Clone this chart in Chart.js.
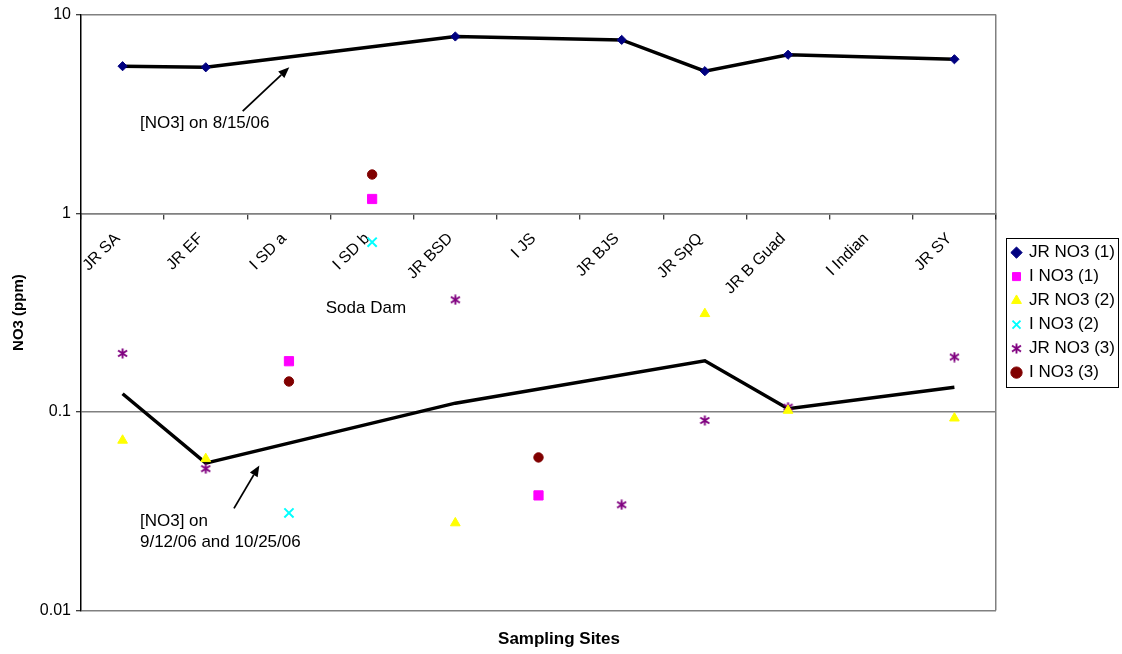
<!DOCTYPE html>
<html>
<head>
<meta charset="utf-8">
<title>NO3 at sampling sites</title>
<script src="https://cdn.jsdelivr.net/npm/chart.js@4.4.1/dist/chart.umd.min.js"></script>
<style>
  html, body { margin: 0; padding: 0; background: #ffffff; }
  canvas { display: block; }
</style>
</head>
<body>
<canvas id="chart" width="1122" height="654"></canvas>
<script>
// Sampling sites along the Jemez River (JR) and its inflows (I)
const sites = ['JR SA', 'JR EF', 'I SD a', 'I SD b', 'JR BSD', 'I JS', 'JR BJS', 'JR SpQ', 'JR B Guad', 'I Indian', 'JR SY'];

// Nitrate concentrations (ppm); null where a site was not sampled
const jrNo3_1 = [5.50, 5.43, null, null, 7.76, null, 7.46, 5.19, 6.28, null, 5.96];
const iNo3_1  = [null, null, 0.180, 1.18, null, 0.038, null, null, null, null, null];
const jrNo3_2 = [0.0719, 0.0581, null, null, 0.0276, null, null, 0.312, 0.1017, null, 0.093];
const iNo3_2  = [null, null, 0.031, 0.715, null, null, null, null, null, null, null];
const jrNo3_3 = [0.197, 0.0518, null, null, 0.367, null, 0.0341, 0.0906, 0.1057, null, 0.189];
const iNo3_3  = [null, null, 0.1423, 1.567, null, 0.059, null, null, null, null, null];

// River trend for the 9/12/06 and 10/25/06 campaigns
const jrNo3Fall = [0.1235, 0.0552, null, null, 0.1107, null, null, 0.181, 0.1038, null, 0.133];

// Log axis ticks
const yTickValues = [0.01, 0.1, 1, 10];
const yTickLabels = ['0.01', '0.1', '1', '10'];

// Callout notes, placed in data space (x = site index, y = ppm)
const noteTexts = [
  { lines: ['[NO3] on 8/15/06'], at: [0.209, 2.85] },
  { lines: ['Soda Dam'], at: [2.442, 0.332] },
  { lines: ['[NO3] on', '9/12/06 and 10/25/06'], at: [0.209, 0.0282] }
];
const noteArrows = [
  { from: [1.444, 3.27], to: [2.004, 5.43] },
  { from: [1.339, 0.0327], to: [1.644, 0.0538] }
];

const FONT = '"Liberation Sans", Arial, Helvetica, sans-serif';
Chart.defaults.font.family = FONT;
Chart.defaults.color = '#000000';

// Asterisk marker: an X crossed by a vertical stroke
function asteriskMarker(color, size, lineWidth) {
  const c = document.createElement('canvas');
  c.width = size;
  c.height = size;
  const g = c.getContext('2d');
  g.strokeStyle = color;
  g.lineWidth = lineWidth;
  const m = size / 2;
  g.beginPath();
  g.moveTo(m, 0.5);          g.lineTo(m, size - 0.5);
  g.moveTo(1, size * 0.22);  g.lineTo(size - 1, size * 0.78);
  g.moveTo(size - 1, size * 0.22); g.lineTo(1, size * 0.78);
  g.stroke();
  return c;
}

const calloutPlugin = {
  id: 'callouts',
  afterDatasetsDraw(chart) {
    const { ctx, scales: { x, y } } = chart;
    ctx.save();
    ctx.fillStyle = '#000000';
    ctx.strokeStyle = '#000000';
    ctx.font = '17px ' + FONT;
    ctx.textAlign = 'left';
    ctx.textBaseline = 'middle';
    noteTexts.forEach(n => {
      const px = x.getPixelForValue(n.at[0]);
      const py = y.getPixelForValue(n.at[1]);
      n.lines.forEach((line, i) => ctx.fillText(line, px, py + i * 21));
    });
    noteArrows.forEach(a => {
      const x0 = x.getPixelForValue(a.from[0]), y0 = y.getPixelForValue(a.from[1]);
      const x1 = x.getPixelForValue(a.to[0]),   y1 = y.getPixelForValue(a.to[1]);
      const ang = Math.atan2(y1 - y0, x1 - x0);
      const headLen = 11, headHalf = 4.5;
      const bx = x1 - headLen * Math.cos(ang), by = y1 - headLen * Math.sin(ang);
      ctx.lineWidth = 1.8;
      ctx.beginPath();
      ctx.moveTo(x0, y0);
      ctx.lineTo(bx, by);
      ctx.stroke();
      ctx.beginPath();
      ctx.moveTo(x1, y1);
      ctx.lineTo(bx + headHalf * Math.sin(ang), by - headHalf * Math.cos(ang));
      ctx.lineTo(bx - headHalf * Math.sin(ang), by + headHalf * Math.cos(ang));
      ctx.closePath();
      ctx.fill();
    });
    ctx.restore();
  }
};

const LEGEND_WIDTH = 112.5;
const legendFramePlugin = {
  id: 'legendFrame',
  afterDraw(chart) {
    const lg = chart.legend;
    if (!lg || !lg.legendHitBoxes || !lg.legendHitBoxes.length) return;
    const boxes = lg.legendHitBoxes;
    const last = boxes[boxes.length - 1];
    const top = Math.round(boxes[0].top - 6);
    const bottom = Math.round(last.top + last.height + 6);
    const left = Math.round(lg.left + 0.5);
    const right = Math.round(lg.left + LEGEND_WIDTH);
    const { ctx } = chart;
    ctx.save();
    ctx.strokeStyle = '#000000';
    ctx.lineWidth = 1;
    ctx.strokeRect(left + 0.5, top + 0.5, right - left, bottom - top);
    ctx.restore();
  }
};

const markerSeries = (label, data, style, color, radius, borderWidth) => ({
  label,
  data,
  showLine: false,
  pointStyle: style,
  pointRadius: radius,
  pointHoverRadius: radius,
  backgroundColor: color,
  borderColor: color,
  pointBackgroundColor: color,
  pointBorderColor: color,
  pointBorderWidth: borderWidth,
  borderWidth: borderWidth
});

new Chart(document.getElementById('chart'), {
  type: 'line',
  data: {
    labels: sites,
    datasets: [
      {
        label: 'JR NO3 (1)',
        data: jrNo3_1,
        showLine: true,
        spanGaps: true,
        tension: 0,
        borderColor: '#000000',
        borderWidth: 3.5,
        borderCapStyle: 'butt',
        backgroundColor: '#000080',
        pointStyle: 'rectRot',
        pointRadius: 4.6,
        pointHoverRadius: 4.6,
        pointBackgroundColor: '#000080',
        pointBorderColor: '#000080',
        pointBorderWidth: 1
      },
      markerSeries('I NO3 (1)', iNo3_1, 'rect', '#ff00ff', 6.5, 1),
      markerSeries('JR NO3 (2)', jrNo3_2, 'triangle', '#ffff00', 5.6, 1),
      markerSeries('I NO3 (2)', iNo3_2, 'crossRot', '#00ffff', 6.5, 2),
      markerSeries('JR NO3 (3)', jrNo3_3, asteriskMarker('#800080', 11, 1.9), '#800080', 5.5, 1),
      markerSeries('I NO3 (3)', iNo3_3, 'circle', '#800000', 4.7, 1),
      {
        label: 'JR NO3 9/12/06 and 10/25/06',
        inLegend: false,
        data: jrNo3Fall,
        showLine: true,
        spanGaps: true,
        tension: 0,
        borderColor: '#000000',
        borderWidth: 3.5,
        borderCapStyle: 'butt',
        pointRadius: 0,
        pointHoverRadius: 0
      }
    ]
  },
  options: {
    responsive: false,
    devicePixelRatio: 1,
    animation: false,
    layout: { padding: { top: 14, right: 4, bottom: 0, left: 0 } },
    scales: {
      x: {
        type: 'category',
        position: { y: 1 },
        offset: true,
        grid: {
          offset: true,
          drawOnChartArea: true,
          color: ctx => (ctx.type === 'scale' ? '#808080' : 'rgba(0,0,0,0)'),
          lineWidth: 1.5,
          drawTicks: true,
          tickLength: 5,
          tickColor: '#000000',
          tickWidth: 1
        },
        border: { display: true, color: '#808080', width: 1.5 },
        ticks: {
          autoSkip: false,
          minRotation: 45,
          maxRotation: 45,
          padding: 11,
          labelOffset: -5,
          color: '#000000',
          font: { size: 16 }
        }
      },
      y: {
        type: 'logarithmic',
        position: 'left',
        min: 0.01,
        max: 10,
        afterBuildTicks: scale => { scale.ticks = yTickValues.map(v => ({ value: v })); },
        afterFit: scale => { scale.width = 81; },
        ticks: {
          callback: (value, index) => yTickLabels[index],
          color: '#000000',
          font: { size: 16 },
          padding: 5
        },
        grid: { color: '#808080', lineWidth: 1.5, tickLength: 5, tickColor: '#000000', tickWidth: 1 },
        border: { display: true, color: '#000000', width: 1.5 },
        title: {
          display: true,
          text: 'NO3 (ppm)',
          color: '#000000',
          font: { size: 15, weight: 'bold' },
          padding: { top: 10, bottom: 0 }
        }
      },
      gap: {
        type: 'linear',
        position: 'right',
        display: true,
        min: 0,
        max: 1,
        grid: { display: false, drawTicks: false },
        border: { display: false },
        ticks: { display: false },
        afterFit: scale => { scale.width = 9.5; }
      }
    },
    plugins: {
      legend: {
        position: 'right',
        align: 'center',
        fullSize: false,
        maxWidth: LEGEND_WIDTH,
        labels: {
          usePointStyle: true,
          boxWidth: 8,
          boxHeight: 8,
          padding: 7,
          color: '#000000',
          font: { size: 17 },
          filter: (item, data) => data.datasets[item.datasetIndex].inLegend !== false
        }
      },
      title: {
        display: true,
        position: 'bottom',
        text: 'Sampling Sites',
        color: '#000000',
        font: { size: 17, weight: 'bold' },
        padding: { top: 19, bottom: 4 }
      },
      tooltip: { enabled: false }
    }
  },
  plugins: [calloutPlugin, legendFramePlugin]
});
</script>
</body>
</html>
